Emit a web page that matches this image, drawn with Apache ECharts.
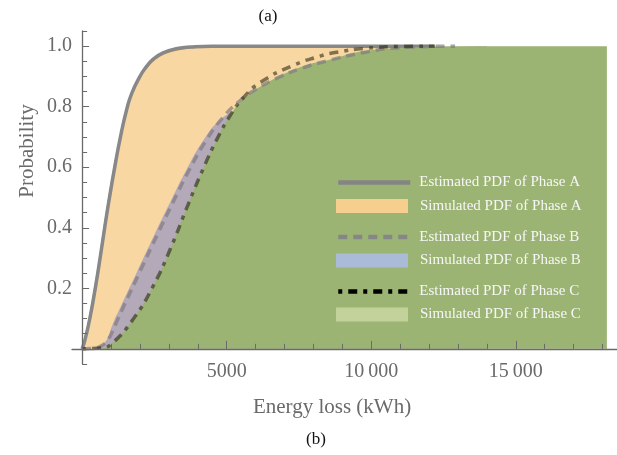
<!DOCTYPE html>
<html><head><meta charset="utf-8">
<script src="https://cdn.jsdelivr.net/npm/echarts@6/dist/echarts.min.js"></script>
<style>html,body{margin:0;padding:0;background:#fff}#c{width:617px;height:455px}</style>
</head><body><div id="c"></div>
<script>
// ---- data ----
const estA_x = [0, 100, 260, 460, 630, 780, 950, 1150, 1330, 1550, 1720, 2000, 2180, 2460, 2800, 3300, 3750, 4500, 6000, 9000, 12180];
const estA_y = [0, 0.03, 0.097, 0.203, 0.305, 0.40, 0.502, 0.612, 0.702, 0.794, 0.845, 0.9, 0.927, 0.957, 0.978, 0.992, 0.997, 1, 1, 1, 1];
const simA_x = [0, 80, 240, 440, 610, 760, 930, 1130, 1320, 1550, 1730, 2020, 2220, 2520, 2880, 3400, 4000, 5000, 6500, 9000, 12180];
const simA_y = [0, 0.03, 0.097, 0.203, 0.305, 0.40, 0.502, 0.612, 0.702, 0.794, 0.845, 0.9, 0.927, 0.957, 0.977, 0.99, 0.996, 0.999, 1, 1, 1];
const estB_x = [0, 450, 700, 900, 1150, 1450, 2000, 2600, 3200, 3700, 4300, 4850, 5400, 6000, 6850, 7500, 8460, 9800, 11000, 12900];
const estB_y = [0, 0.003, 0.012, 0.03, 0.08, 0.143, 0.255, 0.377, 0.495, 0.59, 0.69, 0.762, 0.815, 0.857, 0.899, 0.924, 0.951, 0.98, 0.995, 1];
const simB_x = [400, 650, 850, 1050, 1350, 1900, 2500, 3100, 3600, 4200, 4750, 5300, 5900, 6800, 7500, 8500, 10000, 12000, 14000];
const simB_y = [0.003, 0.012, 0.03, 0.08, 0.143, 0.255, 0.377, 0.495, 0.59, 0.69, 0.755, 0.79, 0.835, 0.88, 0.91, 0.94, 0.972, 0.993, 1];
const estC_x = [0, 650, 1000, 1780, 2470, 3050, 3700, 4200, 4660, 5180, 5580, 6160, 7310, 8230, 8690, 9840, 11000, 12200];
const estC_y = [0, 0.003, 0.015, 0.1, 0.21, 0.33, 0.485, 0.598, 0.692, 0.78, 0.83, 0.88, 0.937, 0.967, 0.978, 0.993, 0.999, 1];
const simC_x = [550, 1000, 1780, 2470, 3050, 3700, 4200, 4660, 5180, 5600, 6200, 7540, 8580, 9845, 12030, 12600, 14000, 16000, 18150];
const simC_y = [0, 0.015, 0.1, 0.21, 0.33, 0.485, 0.598, 0.692, 0.78, 0.825, 0.868, 0.93, 0.956, 0.985, 0.998, 1, 1, 1, 1];

const xLabelValues = [5000, 10000, 15000];
const xMinorTicks = [1000, 2000, 3000, 4000, 5000, 6000, 7000, 8000, 9000, 10000, 11000, 12000, 13000, 14000, 15000, 16000, 17000, 18000];
const yLabelValues = [0.2, 0.4, 0.6, 0.8, 1.0];

const names = {
  estA: 'Estimated PDF of Phase A', simA: 'Simulated PDF of Phase A',
  estB: 'Estimated PDF of Phase B', simB: 'Simulated PDF of Phase B',
  estC: 'Estimated PDF of Phase C', simC: 'Simulated PDF of Phase C'
};

// ---- chart ----
const FONT = "'Liberation Serif','Times New Roman',serif";
const AX = '#6a6a6a';
function zip(xs, ys) { return xs.map((x, i) => [x, ys[i]]); }
function fmtX(v) { return v >= 10000 ? String(v).replace(/\B(?=(\d{3})+(?!\d))/g, '\u2009') : String(v); }

function leg(name, top, extra, padLeft) {
  return {
    show: true, left: 336, top: top, orient: 'vertical', padding: 0, z: 20,
    itemWidth: 72, itemHeight: 14, selectedMode: false,
    data: [Object.assign({ name: name }, extra)],
    textStyle: { color: '#f6f6f6', fontFamily: FONT, fontSize: 15, padding: [0, 0, 0, padLeft] }
  };
}
const hideSym = { opacity: 0, color: 'rgba(0,0,0,0)', borderWidth: 0 };

const baseLine = { type: 'line', symbol: 'none', showSymbol: false, smooth: 0.5, animation: false };

const option = {
  animation: false,
  backgroundColor: '#fff',
  grid: { left: 72, right: 0, top: 31, bottom: 91, containLabel: false },
  xAxis: [
    {
      type: 'value', min: -350, max: 18500, z: 15, position: 'bottom',
      axisLine: { onZero: true, lineStyle: { color: AX, width: 1.3 } },
      axisTick: { inside: true, length: 5, customValues: xMinorTicks, lineStyle: { color: AX, width: 1 } },
      axisLabel: { customValues: xLabelValues, formatter: fmtX, color: AX, fontFamily: FONT, fontSize: 20, margin: -2 },
      splitLine: { show: false }
    },
    {
      type: 'value', min: -350, max: 18500, z: 15, position: 'bottom',
      axisLine: { show: false, onZero: true },
      axisTick: { inside: true, length: 8, customValues: xLabelValues, lineStyle: { color: AX, width: 1 } },
      axisLabel: { show: false },
      splitLine: { show: false }
    }
  ],
  yAxis: [
    {
      type: 'value', min: -0.05, max: 1.05, interval: 0.05, z: 15, position: 'left',
      axisLine: { show: true, onZero: true, lineStyle: { color: AX, width: 1.3 } },
      axisTick: { show: true, inside: true, length: 5, lineStyle: { color: AX, width: 1 } },
      axisLabel: { customValues: yLabelValues, formatter: v => v.toFixed(1), color: AX, fontFamily: FONT, fontSize: 20, margin: 0 },
      splitLine: { show: false }
    },
    {
      type: 'value', min: -0.05, max: 1.05, z: 15, position: 'left',
      axisLine: { show: false, onZero: true },
      axisTick: { show: true, inside: true, length: 7, customValues: yLabelValues, lineStyle: { color: AX, width: 1 } },
      axisLabel: { show: false },
      splitLine: { show: false }
    }
  ],
  legend: [
    leg(names.estA, 175, { lineStyle: { color: '#848484', width: 4.5, type: 'solid', opacity: 1 }, itemStyle: hideSym }, 4),
    leg(names.simA, 198.5, { icon: 'rect', itemStyle: { color: '#f6cf8f', borderWidth: 0 } }, 7),
    leg(names.estB, 229.5, { lineStyle: { color: '#868686', width: 4.5, type: [9, 6], opacity: 1 }, itemStyle: hideSym }, 4),
    leg(names.simB, 253, { icon: 'rect', itemStyle: { color: '#a9bbd6', borderWidth: 0 } }, 7),
    leg(names.estC, 284, { lineStyle: { color: '#000', width: 4.5, type: [4, 6, 9, 6], opacity: 1 }, itemStyle: hideSym }, 4),
    leg(names.simC, 307, { icon: 'rect', itemStyle: { color: '#c3d29a', borderWidth: 0 } }, 7)
  ],
  series: [
    Object.assign({}, baseLine, {
      name: names.simA, data: zip(simA_x, simA_y), z: 2,
      lineStyle: { color: '#c99b66', width: 1.5 }, itemStyle: { color: '#f6cf8f' },
      areaStyle: { color: '#f9d7a3', opacity: 1 }
    }),
    Object.assign({}, baseLine, {
      name: names.estA, data: zip(estA_x, estA_y), z: 3,
      lineStyle: { color: '#888888', width: 3.5 }, itemStyle: { color: '#888888' }
    }),
    Object.assign({}, baseLine, {
      name: names.simB, data: zip(simB_x, simB_y), z: 4,
      lineStyle: { width: 0, color: '#b4a9b8' }, itemStyle: { color: '#a9bbd6' },
      areaStyle: { color: '#b4a9b8', opacity: 1 }
    }),
    Object.assign({}, baseLine, {
      name: names.simC, data: zip(simC_x, simC_y), z: 5,
      lineStyle: { width: 0, color: '#9cb473' }, itemStyle: { color: '#c3d29a' },
      areaStyle: { color: '#9cb473', opacity: 1 }
    }),
    Object.assign({}, baseLine, {
      name: names.estB, data: zip(estB_x, estB_y), z: 6,
      lineStyle: { color: 'rgba(130,124,128,0.7)', width: 3.5, type: [9, 6] }, itemStyle: { color: '#888' }
    }),
    Object.assign({}, baseLine, {
      name: names.estC, data: zip(estC_x, estC_y), z: 7,
      lineStyle: { color: 'rgba(30,30,10,0.55)', width: 3.5, type: [4, 6, 9, 6] }, itemStyle: { color: '#000' }
    })
  ],
  graphic: [
    { type: 'text', x: 268, y: 17, z: 30, style: { text: '(a)', font: '17px ' + FONT, fill: '#111', align: 'center', verticalAlign: 'middle' } },
    { type: 'text', x: 316, y: 440, z: 30, style: { text: '(b)', font: '17px ' + FONT, fill: '#111', align: 'center', verticalAlign: 'middle' } },
    { type: 'text', x: 332, y: 407, z: 30, style: { text: 'Energy loss (kWh)', font: '21px ' + FONT, fill: AX, align: 'center', verticalAlign: 'middle' } },
    { type: 'text', x: 27, y: 151, rotation: Math.PI / 2, z: 30, style: { text: 'Probability', font: '21px ' + FONT, fill: AX, align: 'center', verticalAlign: 'middle' } }
  ]
};

const chart = echarts.init(document.getElementById('c'), null, { renderer: 'canvas' });
chart.setOption(option);
</script>
</body></html>
